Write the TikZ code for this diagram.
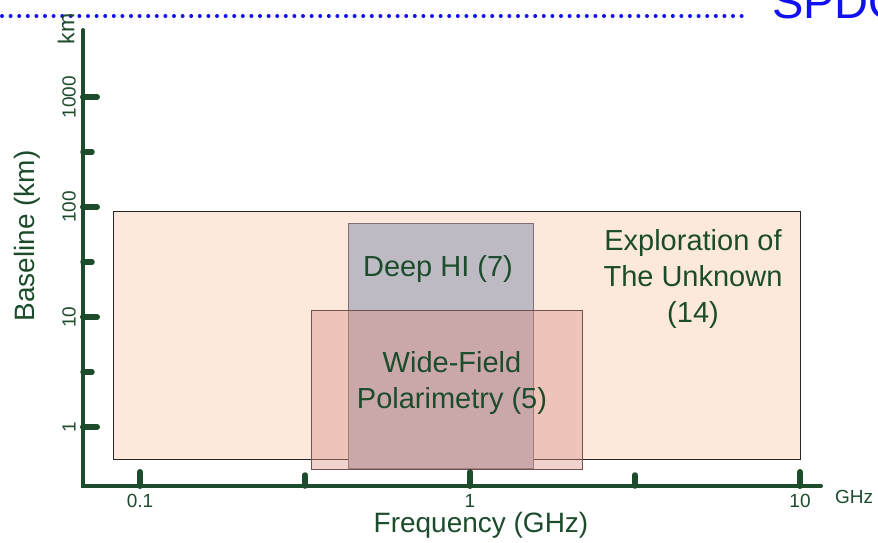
\documentclass[tikz,border=0pt]{standalone}
\usepackage{fontspec}
\setmainfont{Liberation Sans}
\usetikzlibrary{positioning}
\definecolor{axisgreen}{RGB}{28,76,44}
\definecolor{peach}{RGB}{252,233,220}
\definecolor{hiGray}{RGB}{190,186,196}
\definecolor{hiEdge}{RGB}{125,112,118}
\definecolor{polRose}{RGB}{220,142,130}
\definecolor{polEdge}{RGB}{112,82,82}
\definecolor{spdoBlue}{RGB}{16,16,240}
\tikzstyle{axisline}=[draw=axisgreen,line width=4pt,line cap=round]
\tikzstyle{majortick}=[draw=axisgreen,line width=6pt,line cap=round]
\tikzstyle{minortick}=[draw=axisgreen,line width=5.5pt,line cap=round]
\tikzstyle{ticklabel}=[text=axisgreen,font=\fontsize{19}{22}\selectfont,inner sep=0pt]
\tikzstyle{axistitle}=[text=axisgreen,font=\fontsize{28}{32}\selectfont,inner sep=0pt]
\tikzstyle{goal}=[rectangle,inner sep=0pt,outer sep=0pt]
\tikzstyle{goallabel}=[text=axisgreen,font=\fontsize{29}{36}\selectfont,align=center,inner sep=0pt]

\begin{document}
\begin{tikzpicture}[x=1pt,y=-1pt]
  \useasboundingbox (0,0) rectangle (878,542);
  \clip (0,0) rectangle (878,542);

  % header rule and office tag
  \draw[spdoBlue,line width=4pt,line cap=round,dash pattern=on 0pt off 8.6pt] (2,16) -- (748,16);
  \node[anchor=base west,text=spdoBlue,font=\fontsize{47}{50}\selectfont,inner sep=0pt] (spdo) at (772,18) {SPDO};

  % science goal regions
  \node[goal,fill=peach,draw=black!85,line width=0.8pt,minimum width=687pt,minimum height=248pt] (explore) at (456.5,335) {};
  \node[goal,fill=hiGray,draw=hiEdge,line width=1pt,minimum width=185pt,minimum height=245pt] (deephi) at (440.5,345.5) {};
  \node[goal,fill=polRose,fill opacity=0.4,draw=polEdge,line width=1pt,minimum width=271pt,minimum height=159pt] (widefield) at (446.5,389.5) {};

  \node[goallabel] (explorelbl) at (693,279) {Exploration of\\The Unknown\\(14)};
  \node[goallabel] (deephilbl) at (438,269) {Deep HI (7)};
  \node[goallabel] (widelbl) at (452,383) {Wide-Field\\Polarimetry (5)};

  % axes
  \coordinate (ytop) at (83,30);
  \coordinate (origin) at (83,486);
  \coordinate (xend) at (821,486);
  \draw[axisline] (ytop) -- (origin) -- (xend);

  % frequency ticks, one decade = 330
  \foreach \x/\t in {140/0.1, 470/1, 800/10} {
    \draw[majortick] (\x,486) -- (\x,472);
    \node[ticklabel] at (\x,501) {\t};
  }
  \foreach \x in {305, 635}
    \draw[minortick] (\x,486) -- (\x,475);
  \node[ticklabel] (ghz) at (854,497) {GHz};

  % baseline ticks, one decade = 110
  \foreach \y/\t in {427/1, 317/10, 207/100, 97/1000} {
    \draw[majortick] (83,\y) -- (97,\y);
    \node[ticklabel,rotate=90] at (69,\y) {\t};
  }
  \foreach \y in {152, 262, 372}
    \draw[minortick] (83,\y) -- (92,\y);
  \node[ticklabel,font=\fontsize{23}{26}\selectfont,rotate=90] (km) at (66,29) {km};

  \node[axistitle] (xtitle) at (481,525) {Frequency (GHz)};
  \node[axistitle,rotate=90] (ytitle) at (27,236) {Baseline (km)};
\end{tikzpicture}
\end{document}
